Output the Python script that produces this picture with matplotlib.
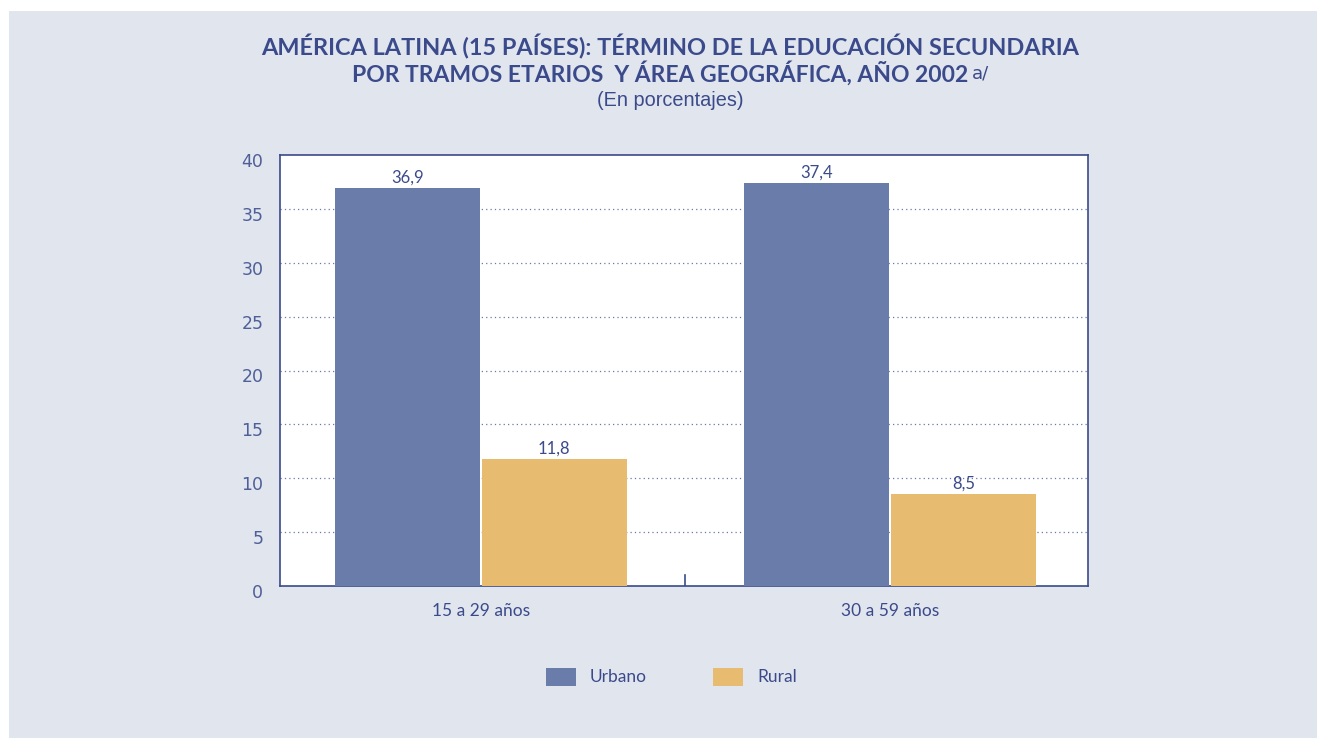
import matplotlib
matplotlib.use("Agg")
import matplotlib.pyplot as plt
from matplotlib.patches import Rectangle
import matplotlib.transforms as mtransforms
import numpy as np

categories = ["15 a 29 años", "30 a 59 años"]
urbano = [36.9, 37.4]
rural = [11.8, 8.5]
series_names = ["Urbano", "Rural"]
yticks = [0, 5, 10, 15, 20, 25, 30, 35, 40]

W, H = 1317, 738
fig = plt.figure(figsize=(W/100, H/100), dpi=100)
fig.patch.set_facecolor("white")
bg = "#e0e5ee"
fig.patches.append(Rectangle((9/W, 0), 1 - 9/W, 1 - 11/H, transform=fig.transFigure,
                             facecolor=bg, edgecolor="none", zorder=-10))

navy = "#3b4a8a"
tickc = "#4f5f98"
c_urb = "#6a7daa"
c_rur = "#e8bc70"

ax = fig.add_axes([280/W, 1 - 586/H, (1088-280)/W, (586-155)/H])
ax.set_facecolor("white")
x = np.arange(len(categories))
bw = 0.355
b1 = ax.bar(x - bw/2 - 0.002, urbano, bw, color=c_urb, zorder=3)
b2 = ax.bar(x + bw/2 + 0.002, rural, bw, color=c_rur, zorder=3)
for bars, vals in ((b1, urbano), (b2, rural)):
    for b, v in zip(bars, vals):
        ax.text(b.get_x() + b.get_width()/2, v + 0.25, f"{v:.1f}".replace(".", ","),
                ha="center", va="bottom", fontsize=12, color=navy, family="Lato")
ax.set_xlim(-0.491, 1.484)
ax.set_ylim(0, 40)
ax.set_yticks(yticks)
ax.set_yticklabels([str(t) for t in yticks], fontsize=12.5, color=tickc, family="DejaVu Sans")
ax.tick_params(axis="y", length=0, pad=12)
off = mtransforms.ScaledTranslation(0, -5/100, fig.dpi_scale_trans)
for lab in ax.get_yticklabels():
    lab.set_transform(lab.get_transform() + off)
ax.set_xticks(x)
ax.set_xticklabels(categories, fontsize=12.5, color=navy, family="Lato")
ax.tick_params(axis="x", length=0, pad=12)
for t in yticks[1:-1]:
    ax.axhline(t, color="#6a7aa8", linestyle=(0, (1, 2.5)), linewidth=0.9, zorder=1)
ax.plot([0.5, 0.5], [0, 1], color=navy, linewidth=1.2, zorder=4)
for s in ax.spines.values():
    s.set_color(navy)
    s.set_linewidth(1.2)

fig.text(670/W, 1 - 47/H, "AMÉRICA LATINA (15 PAÍSES): TÉRMINO DE LA EDUCACIÓN SECUNDARIA",
         ha="center", va="center", fontsize=16.9, fontweight="bold", color=navy, family="Lato")
fig.text(968/W, 1 - 73/H, "POR TRAMOS ETARIOS  Y ÁREA GEOGRÁFICA, AÑO 2002",
         ha="right", va="center", fontsize=16.5, fontweight="bold", color=navy, family="Lato")
fig.text(972/W, 1 - 74/H, "a/", ha="left", va="center", fontsize=13, color=navy, family="Liberation Sans Narrow")
fig.text(670/W, 1 - 100/H, "(En porcentajes)", ha="center", va="center", fontsize=14.3,
         color=navy, family="Liberation Sans")

# legend
fig.patches.append(Rectangle((546/W, 1 - 686/H), 30/W, 18/H, transform=fig.transFigure,
                             facecolor=c_urb, edgecolor="none"))
fig.text(590/W, 1 - 677/H, series_names[0], ha="left", va="center", fontsize=12.5, color=navy, family="Lato")
fig.patches.append(Rectangle((713/W, 1 - 686/H), 30/W, 18/H, transform=fig.transFigure,
                             facecolor=c_rur, edgecolor="none"))
fig.text(757/W, 1 - 677/H, series_names[1], ha="left", va="center", fontsize=12.5, color=navy, family="Lato")

fig.savefig("out.png", dpi=100, facecolor=fig.get_facecolor())
